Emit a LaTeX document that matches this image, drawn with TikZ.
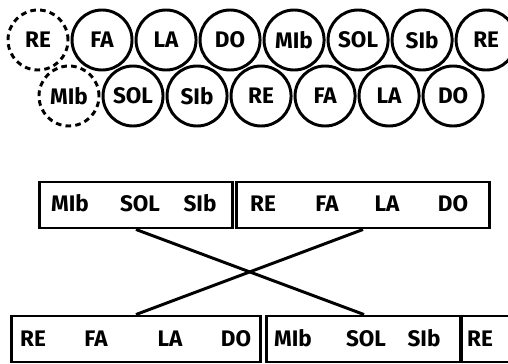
\documentclass[tikz,border=0pt]{standalone}
\usepackage{fontspec}
\setsansfont{Fira Sans}

\begin{document}
\begin{tikzpicture}[x=0.025cm, y=-0.025cm, node distance=1.6cm, line width=2.1pt,
		font=\sffamily\bfseries\fontsize{16}{18}\selectfont]
		
		\useasboundingbox (0,0) rectangle (508,363);
		
		% Styles
		\tikzstyle{note} = [draw, circle, minimum size=1.5cm, inner sep=0pt];
		\tikzstyle{gone} = [note, dash pattern=on 4pt off 3pt];
		\tikzstyle{bar} = [draw, rectangle, inner sep=0pt, minimum height=1.15cm];
		\tikzstyle{tag} = [text height=1.6ex, text depth=0pt, inner sep=0pt];
		
		% Circles, upper row
		\node[gone] (t1) at (38,40) {RE};
		\node[note, right of=t1] (t2) {FA};
		\node[note, right of=t2] (t3) {LA};
		\node[note, right of=t3] (t4) {DO};
		\node[note, right of=t4] (t5) {MIb};
		\node[note, right of=t5] (t6) {SOL};
		\node[note, right of=t6] (t7) {SIb};
		\node[note, right of=t7] (t8) {RE};
		
		% Circles, lower row
		\node[gone] (b1) at (69,96) {MIb};
		\node[note, right of=b1] (b2) {SOL};
		\node[note, right of=b2] (b3) {SIb};
		\node[note, right of=b3] (b4) {RE};
		\node[note, right of=b4] (b5) {FA};
		\node[note, right of=b5] (b6) {LA};
		\node[note, right of=b6] (b7) {DO};
		
		% Boxes
		\node[bar, minimum width=4.8cm] (ul) at (136,205) {};
		\node[bar, minimum width=6.3cm] (ur) at (363,205) {};
		\node[bar, minimum width=6.2cm] (ll) at (136,339) {};
		\node[bar, minimum width=4.85cm] (lm) at (364,339) {};
		\node[bar, minimum width=2cm] (lr) at (500.5,339) {};
		
		% Box texts
		\node[tag] (ul1) at (70,207) {MIb};
		\node[tag] (ul2) at (140,207) {SOL};
		\node[tag] (ul3) at (200,207) {SIb};
		\node[tag] (ur1) at (263,207) {RE};
		\node[tag] (ur2) at (327,207) {FA};
		\node[tag] (ur3) at (387,207) {LA};
		\node[tag] (ur4) at (453,207) {DO};
		\node[tag] (ll1) at (33,342) {RE};
		\node[tag] (ll2) at (96,342) {FA};
		\node[tag] (ll3) at (170,342) {LA};
		\node[tag] (ll4) at (236,342) {DO};
		\node[tag] (lm1) at (293,342) {MIb};
		\node[tag] (lm2) at (366,342) {SOL};
		\node[tag] (lm3) at (424,342) {SIb};
		\node[tag] (lr1) at (480,342) {RE};
		
		% Crossing
		\draw (ul.south) -- (lm.north);
		\draw (ur.south) -- (ll.north);
		
	\end{tikzpicture}
\end{document}
